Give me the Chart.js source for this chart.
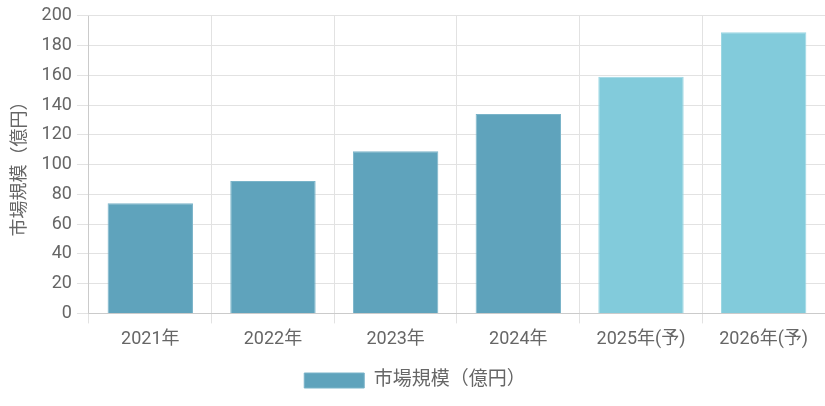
<!DOCTYPE html>
<html>
<head>
<meta charset="utf-8">
<script src="https://cdn.jsdelivr.net/npm/chart.js@4"></script>
<style>
  html, body { margin: 0; padding: 0; background: #fff; }
  #wrap { width: 825px; height: 406px; }
</style>
</head>
<body>
<div id="wrap"><canvas id="marketChart"></canvas></div>
<script>
const years = ["2021年", "2022年", "2023年", "2024年", "2025年(予)", "2026年(予)"];
const marketSize = [74, 89, 109, 134, 159, 189];
const forecastFlags = [false, false, false, false, true, true];

const actualColor = "#5fa3bc";
const forecastColor = "#82cbdb";

Chart.defaults.font.family = "Roboto, 'Noto Sans CJK JP', sans-serif";
Chart.defaults.color = "#666";

const ctx = document.getElementById("marketChart").getContext("2d");

new Chart(ctx, {
  type: "bar",
  data: {
    labels: years,
    datasets: [
      {
        label: "市場規模（億円）",
        data: marketSize,
        backgroundColor: forecastFlags.map((f) => (f ? forecastColor : actualColor)),
        borderColor: forecastFlags.map((f) => (f ? "#9ad6e3" : "#7ab4c9")),
        borderWidth: 1,
        barPercentage: 0.87,
        categoryPercentage: 0.8,
      },
    ],
  },
  options: {
    responsive: true,
    maintainAspectRatio: false,
    animation: false,
    layout: { padding: { top: 12, right: 0, left: 5, bottom: 6 } },
    plugins: {
      legend: {
        position: "bottom",
        labels: {
          font: { size: 19 },
          boxWidth: 60,
          boxHeight: 15,
          padding: 16,
          generateLabels: (chart) => [
            {
              text: "市場規模（億円）",
              fillStyle: actualColor,
              strokeStyle: "#7ab4c9",
              lineWidth: 1,
              fontColor: "#666",
            },
          ],
        },
      },
      tooltip: { enabled: false },
    },
    scales: {
      x: {
        grid: { color: "#e2e2e2", offset: true, tickLength: 10 },
        ticks: { font: { size: 18 }, color: "#666", padding: 5 },
      },
      y: {
        min: 0,
        max: 200,
        ticks: { stepSize: 20, font: { size: 18 }, color: "#666", padding: 5 },
        grid: { color: "#e2e2e2", tickLength: 12 },
        title: {
          display: true,
          text: "市場規模（億円）",
          font: { size: 18 },
          color: "#666",
          padding: 5,
        },
      },
    },
  },
});
</script>
</body>
</html>
